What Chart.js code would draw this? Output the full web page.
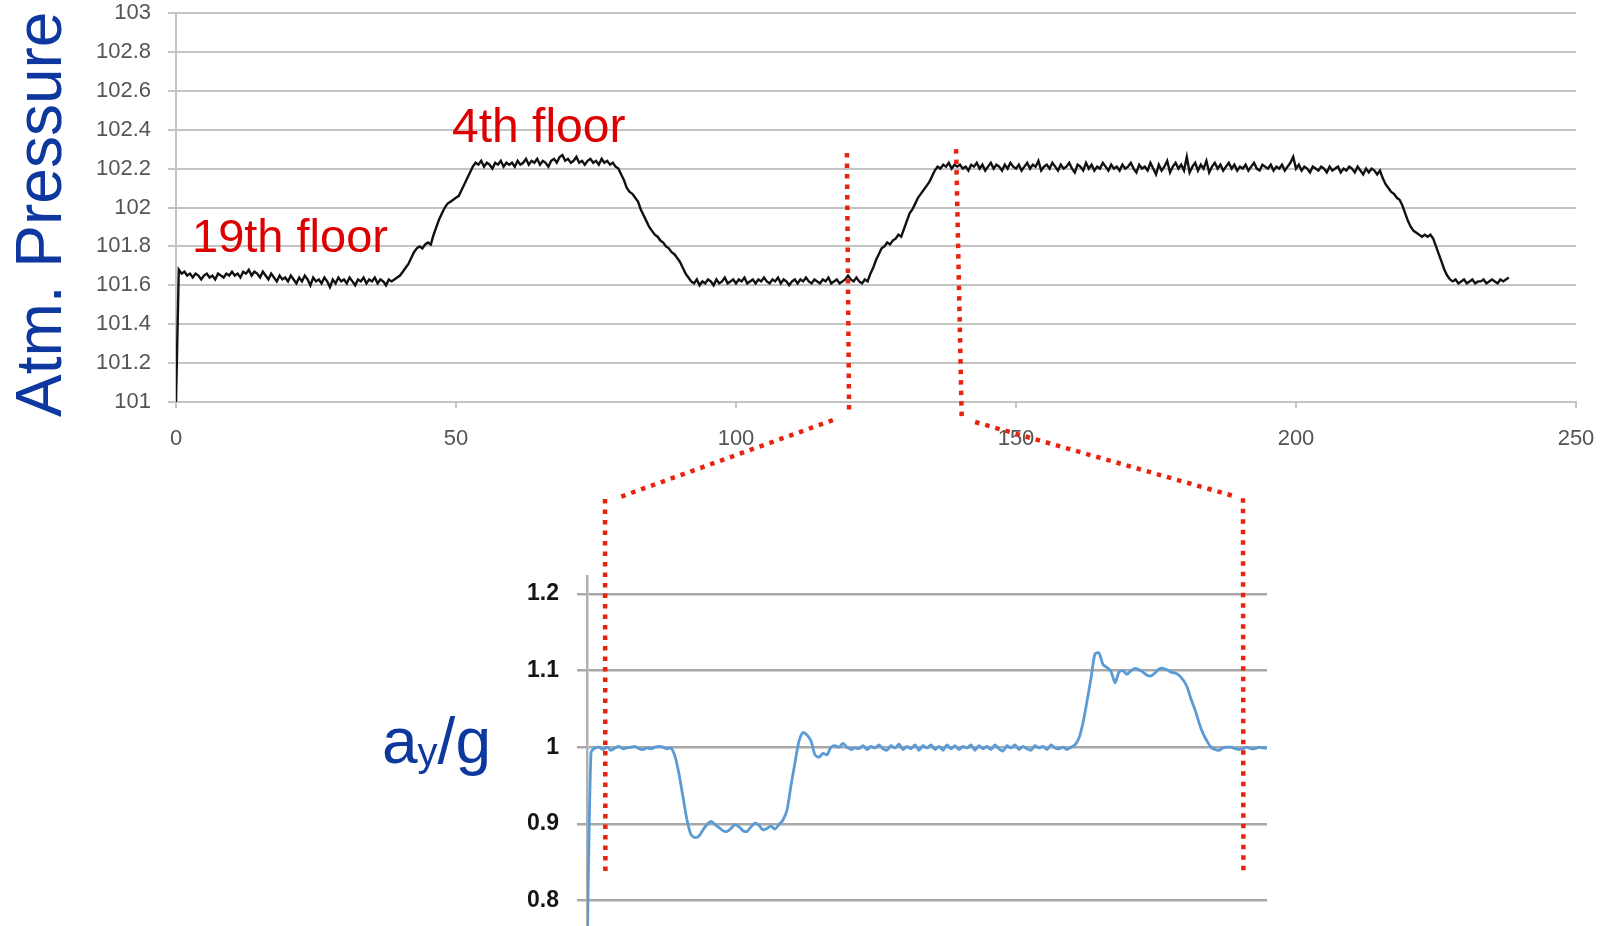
<!DOCTYPE html>
<html>
<head>
<meta charset="utf-8">
<script src="https://cdn.jsdelivr.net/npm/chart.js@4.4.1/dist/chart.umd.min.js"></script>
<style>
  html, body { margin:0; padding:0; background:#fff; }
  body { width:1613px; height:926px; overflow:hidden; position:relative; font-family:"Liberation Sans", Arial, sans-serif; }
  canvas { position:absolute; left:0; }
  .lbl { position:absolute; white-space:nowrap; line-height:1; }
</style>
</head>
<body>
<canvas id="pressureChart" width="1613" height="460" style="top:0"></canvas>
<canvas id="accelChart" width="1613" height="417" style="top:560px"></canvas>
<canvas id="overlay" width="1613" height="926" style="top:0;pointer-events:none"></canvas>

<div class="lbl" style="left:6.6px;top:417px;font-size:64px;color:#0e37a0;transform-origin:0 0;transform:rotate(-90deg);">Atm. Pressure</div>
<div class="lbl" style="left:192px;top:212px;font-size:47px;color:#dc0000;">19th floor</div>
<div class="lbl" style="left:452px;top:102px;font-size:48px;color:#dc0000;">4th floor</div>
<div class="lbl" style="left:382px;top:709px;font-size:64px;color:#0e37a0;">a<span style="font-size:40px;position:relative;top:3px;">y</span>/g</div>

<script>
// ---------------- data ----------------
// Top chart: atmospheric pressure (kPa) sampled every 0.5 s from t = 0 s
const pressureStartTime = 0;
const pressureTimeStep = 0.5;
const pressureValues = [
  101.00,101.68,101.66,101.67,101.65,101.66,101.64,101.66,101.65,101.63,101.65,101.66,101.64,101.65,101.63,101.66,101.65,101.64,101.66,101.65,
  101.67,101.65,101.66,101.64,101.67,101.66,101.68,101.65,101.67,101.66,101.64,101.67,101.65,101.63,101.66,101.64,101.62,101.65,101.63,101.64,
  101.62,101.65,101.63,101.61,101.64,101.62,101.65,101.63,101.60,101.64,101.62,101.63,101.61,101.64,101.62,101.59,101.63,101.61,101.64,101.62,
  101.63,101.61,101.64,101.62,101.60,101.63,101.62,101.64,101.61,101.63,101.62,101.64,101.61,101.63,101.62,101.60,101.63,101.62,101.63,101.64,
  101.65,101.67,101.69,101.71,101.74,101.77,101.79,101.80,101.79,101.81,101.82,101.81,101.86,101.90,101.94,101.97,102.00,102.02,102.03,102.04,
  102.05,102.06,102.09,102.12,102.15,102.18,102.21,102.23,102.22,102.24,102.21,102.23,102.22,102.20,102.23,102.22,102.24,102.21,102.23,102.22,
  102.23,102.21,102.24,102.22,102.23,102.25,102.22,102.24,102.23,102.25,102.22,102.24,102.23,102.21,102.24,102.25,102.23,102.26,102.27,102.24,
  102.25,102.23,102.24,102.26,102.23,102.24,102.22,102.24,102.25,102.23,102.24,102.22,102.25,102.23,102.24,102.22,102.23,102.21,102.20,102.17,
  102.14,102.10,102.08,102.07,102.05,102.03,101.99,101.96,101.93,101.90,101.88,101.86,101.85,101.83,101.82,101.80,101.79,101.77,101.76,101.74,
  101.72,101.69,101.66,101.64,101.62,101.61,101.63,101.60,101.62,101.61,101.63,101.62,101.60,101.63,101.61,101.62,101.64,101.61,101.62,101.63,
  101.61,101.63,101.62,101.64,101.61,101.62,101.63,101.61,101.63,101.62,101.64,101.62,101.61,101.63,101.62,101.64,101.61,101.63,101.62,101.60,
  101.62,101.63,101.61,101.63,101.62,101.64,101.62,101.61,101.63,101.62,101.61,101.63,101.62,101.64,101.61,101.62,101.63,101.61,101.62,101.63,
  101.65,101.63,101.62,101.64,101.62,101.61,101.63,101.62,101.66,101.69,101.73,101.76,101.79,101.80,101.82,101.81,101.83,101.84,101.86,101.85,
  101.89,101.93,101.97,101.99,102.02,102.05,102.07,102.09,102.11,102.13,102.16,102.19,102.21,102.20,102.22,102.21,102.23,102.20,102.22,102.21,
  102.22,102.20,102.21,102.19,102.22,102.21,102.23,102.20,102.22,102.19,102.21,102.23,102.20,102.22,102.21,102.19,102.22,102.20,102.23,102.21,
  102.20,102.22,102.19,102.21,102.23,102.20,102.22,102.21,102.24,102.19,102.21,102.22,102.20,102.23,102.21,102.19,102.22,102.20,102.21,102.23,
  102.20,102.18,102.22,102.21,102.19,102.23,102.20,102.22,102.19,102.21,102.20,102.23,102.21,102.19,102.22,102.20,102.21,102.19,102.22,102.20,
  102.21,102.23,102.20,102.18,102.22,102.20,102.21,102.19,102.23,102.20,102.17,102.22,102.19,102.21,102.24,102.18,102.21,102.23,102.20,102.22,
  102.19,102.26,102.18,102.21,102.23,102.19,102.22,102.20,102.24,102.18,102.21,102.23,102.20,102.22,102.19,102.21,102.23,102.20,102.22,102.19,
  102.21,102.20,102.22,102.19,102.21,102.23,102.20,102.19,102.22,102.21,102.20,102.22,102.19,102.21,102.20,102.22,102.19,102.21,102.23,102.26,
  102.20,102.22,102.19,102.21,102.20,102.18,102.21,102.20,102.19,102.21,102.20,102.18,102.21,102.19,102.20,102.21,102.18,102.20,102.19,102.21,
  102.20,102.18,102.21,102.19,102.17,102.20,102.18,102.20,102.19,102.17,102.19,102.15,102.12,102.10,102.08,102.07,102.05,102.04,102.01,101.97,
  101.93,101.90,101.88,101.87,101.86,101.85,101.86,101.85,101.86,101.84,101.80,101.76,101.72,101.68,101.65,101.63,101.62,101.63,101.61,101.62,
  101.63,101.61,101.62,101.63,101.61,101.62,101.62,101.63,101.61,101.62,101.63,101.62,101.61,101.63,101.62,101.63,101.64
];
const pressureXTicks = [0, 50, 100, 150, 200, 250];
const pressureYTicks = [101, 101.2, 101.4, 101.6, 101.8, 102, 102.2, 102.4, 102.6, 102.8, 103];

// Bottom chart: vertical acceleration a_y/g, one value per sample
const accelValues = [
  0.72,
  0.993,0.999,1.000,0.997,1.000,0.996,0.999,1.001,0.998,0.999,1.000,1.001,0.998,0.997,0.999,0.998,1.000,1.001,1.000,0.998,
  0.999,0.988,0.965,0.935,0.905,0.886,0.882,0.884,0.892,0.899,0.903,0.899,0.895,0.891,0.890,0.894,0.899,0.896,0.891,0.890,
  0.896,0.901,0.898,0.892,0.894,0.897,0.893,0.899,0.905,0.918,0.950,0.980,1.008,1.019,1.016,1.008,0.990,0.987,0.992,0.990,
  1.000,1.002,1.000,1.005,1.000,0.997,0.999,
  0.998,1.002,0.997,1.001,0.999,1.003,0.998,0.996,1.002,0.999,
  1.004,0.997,1.001,0.998,1.003,0.996,1.002,0.999,1.003,0.997,
  1.001,0.996,1.003,0.998,1.002,0.997,1.001,0.999,1.003,0.996,
  1.002,0.998,1.001,0.997,1.003,0.998,0.995,1.002,0.999,1.003,
  0.997,1.001,0.998,0.996,1.002,0.999,1.001,0.997,1.003,0.999,
  0.998,1.000,0.997,
  1.000,1.003,1.012,1.032,1.060,1.090,1.122,1.123,1.108,1.104,1.099,1.084,1.098,1.100,1.095,1.100,1.103,1.101,1.098,1.094,
  1.093,1.097,1.102,1.103,1.101,1.098,1.097,1.094,1.088,1.079,1.063,1.049,1.032,1.018,1.008,1.000,0.997,0.996,0.999,1.000,
  1.000,0.998,0.997,0.998,1.000,0.998,0.998,1.000,0.999,0.999
];
const accelYTicks = [0.8, 0.9, 1, 1.1, 1.2];

// Zoom-window guide lines: [chart, xValue, yValue] endpoints
const guideSegments = [
  [["p", 119.8, 102.28], ["p", 120.2, 100.933]],
  [["p", 139.3, 102.30], ["p", 140.3, 100.923]],
  [["p", 117.3, 100.907], ["a", 8.25, 1.3266]],
  [["a", 4.5, 1.324], ["a", 4.6, 0.836]],
  [["p", 142.7, 100.897], ["a", 162.25, 1.327]],
  [["a", 164.0, 1.325], ["a", 164.1, 0.836]]
];

// ---------------- charts ----------------
const FONT = '"Liberation Sans", Arial, sans-serif';

const pressureData = pressureValues.map((v, i) => ({ x: pressureStartTime + i * pressureTimeStep, y: v }));
const accelData = accelValues.map((v, i) => ({ x: i, y: v }));

function fixVertical(width) {
  return s => { s.width = width; s.paddingTop = 0; s.paddingBottom = 0; };
}

const pressureChart = new Chart(document.getElementById('pressureChart'), {
  type: 'line',
  data: { datasets: [{ data: pressureData, borderColor: '#111', borderWidth: 2.4, pointRadius: 0, tension: 0, fill: false }] },
  options: {
    responsive: false, animation: false, devicePixelRatio: 1,
    layout: { padding: { left: 0, right: 37, top: 13, bottom: 0 } },
    plugins: { legend: { display: false }, tooltip: { enabled: false } },
    scales: {
      x: {
        type: 'linear', min: 0, max: 250,
        afterBuildTicks: s => { s.ticks = pressureXTicks.map(v => ({ value: v })); },
        afterFit: s => { s.height = 58; s.paddingLeft = 0; s.paddingRight = 0; },
        grid: { drawOnChartArea: false, drawTicks: true, tickLength: 6, color: '#c4c4c4', lineWidth: 2 },
        border: { display: true, color: '#c4c4c4', width: 2 },
        ticks: { padding: 18, color: '#555', font: { family: FONT, size: 22 }, maxRotation: 0, callback: v => String(v) }
      },
      y: {
        type: 'linear', min: 101, max: 103,
        afterBuildTicks: s => { s.ticks = pressureYTicks.map(v => ({ value: v })); },
        afterFit: fixVertical(176),
        grid: { color: '#c4c4c4', lineWidth: 2, tickLength: 8 },
        border: { display: true, color: '#c4c4c4', width: 2 },
        ticks: { padding: 17, color: '#555', font: { family: FONT, size: 22 }, callback: v => String(v) }
      }
    }
  }
});

const accelChart = new Chart(document.getElementById('accelChart'), {
  type: 'line',
  data: { datasets: [{ data: accelData, borderColor: '#5b9bd5', borderWidth: 2.8, pointRadius: 0, tension: 0.25, fill: false }] },
  options: {
    responsive: false, animation: false, devicePixelRatio: 1,
    layout: { padding: { left: 0, right: 346, top: 16, bottom: 0 } },
    plugins: { legend: { display: false }, tooltip: { enabled: false } },
    scales: {
      x: { type: 'linear', min: 0, max: 170, display: false },
      y: {
        type: 'linear', min: 0.7, max: 1.2235,
        afterBuildTicks: s => { s.ticks = accelYTicks.map(v => ({ value: v })); },
        afterFit: fixVertical(587),
        grid: { color: '#a8a8a8', lineWidth: 2.5, tickLength: 10 },
        border: { display: true, color: '#b0b0b0', width: 2.5 },
        ticks: { padding: 18, color: '#151515', font: { family: FONT, size: 23, weight: '600' }, callback: v => String(v) }
      }
    }
  }
});

// ---------------- guide lines (overlay) ----------------
function toPage(ref) {
  const chart = ref[0] === 'p' ? pressureChart : accelChart;
  const top = chart.canvas.offsetTop;
  const left = chart.canvas.offsetLeft;
  return { x: left + chart.scales.x.getPixelForValue(ref[1]), y: top + chart.scales.y.getPixelForValue(ref[2]) };
}
function drawGuides() {
  const ctx = document.getElementById('overlay').getContext('2d');
  ctx.clearRect(0, 0, 1613, 926);
  ctx.strokeStyle = '#e8240e';
  ctx.lineWidth = 4.5;
  ctx.lineCap = 'butt';
  ctx.setLineDash([4.5, 6]);
  guideSegments.forEach(seg => {
    const a = toPage(seg[0]), b = toPage(seg[1]);
    ctx.beginPath();
    ctx.moveTo(a.x, a.y);
    ctx.lineTo(b.x, b.y);
    ctx.stroke();
  });
}
drawGuides();
</script>
</body>
</html>
